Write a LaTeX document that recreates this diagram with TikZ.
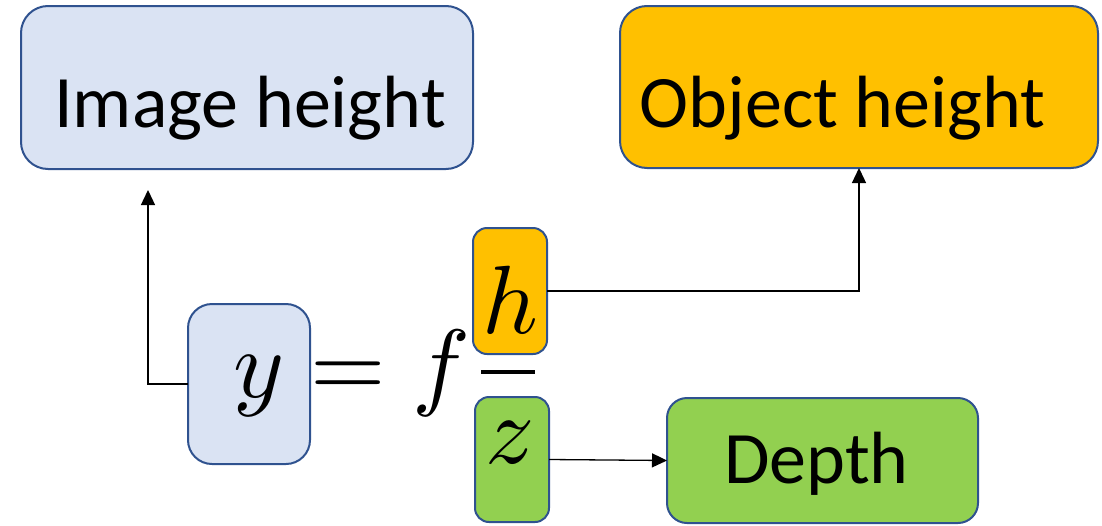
\documentclass[tikz,border=0pt]{standalone}
\usepackage[no-math]{fontspec}
\setmainfont{Carlito}
\DeclareFontShape{OML}{cmm}{m}{it}{<->cmmi10}{}
\DeclareFontShape{OT1}{cmr}{m}{n}{<->cmr10}{}
\DeclareFontShape{OMS}{cmsy}{m}{n}{<->cmsy10}{}
\usetikzlibrary{arrows.meta}
\definecolor{bordc}{RGB}{47,82,143}
\definecolor{lblue}{RGB}{218,227,243}
\definecolor{orng}{RGB}{255,192,0}
\definecolor{grn}{RGB}{146,208,80}
\tikzset{
  box/.style={draw=bordc, line width=2pt, rectangle, inner sep=0pt, outer sep=0pt},
  lbl/.style={anchor=base, inner sep=0pt, font=\fontsize{74}{80}\selectfont},
  mth/.style={anchor=base, inner sep=0pt, font=\fontsize{97}{100}\selectfont},
  conn/.style={draw=black, line width=1.3pt},
  arr/.style={conn, -{Triangle[length=15pt,width=14pt]}}
}
\begin{document}
\begin{tikzpicture}[x=1pt,y=-1pt]
\useasboundingbox (0,0) rectangle (1102,525);
% big boxes
\node[box, fill=lblue, rounded corners=27pt, minimum width=452pt, minimum height=163pt] (img) at (247,87.5) {};
\node[lbl] (imgtxt) at (250,127) {Image height};
\node[box, fill=orng, rounded corners=27pt, minimum width=478pt, minimum height=162pt] (obj) at (859,87) {};
\node[lbl] (objtxt) at (842.5,127) {Object height};
\node[box, fill=grn, rounded corners=20pt, minimum width=311pt, minimum height=125pt] (depth) at (822.5,460.5) {};
\node[lbl] (depthtxt) at (816.5,483) {Depth};
% formula boxes
\node[box, fill=lblue, rounded corners=24pt, minimum width=122pt, minimum height=160pt] (ybox) at (249,384) {};
\node[box, fill=orng, rounded corners=14pt, minimum width=74pt, minimum height=126pt] (hbox) at (510,291) {};
\node[box, fill=grn, rounded corners=14pt, minimum width=74pt, minimum height=125pt] (zbox) at (512,459.5) {};
% formula glyphs
\node[mth] (ysym) at (259,397) {$y$};
\node[mth] (eqsym) at (348,397) {$=$};
\node[mth] (fsym) at (441,397) {$f$};
\node[mth] (hsym) at (510,333) {$h$};
\node[mth] (zsym) at (510,463) {$z$};
\coordinate (barL) at (481,372);
\coordinate (barR) at (535,372);
\draw[line width=4pt] (barL) -- (barR);
% connectors
\coordinate (imgtip) at (148,190);
\draw[arr] (ybox.west) -| (imgtip);
\draw[arr] (hbox.east) -| (obj.south);
\draw[arr] (zbox.east) -- (depth.west);
\end{tikzpicture}
\end{document}
